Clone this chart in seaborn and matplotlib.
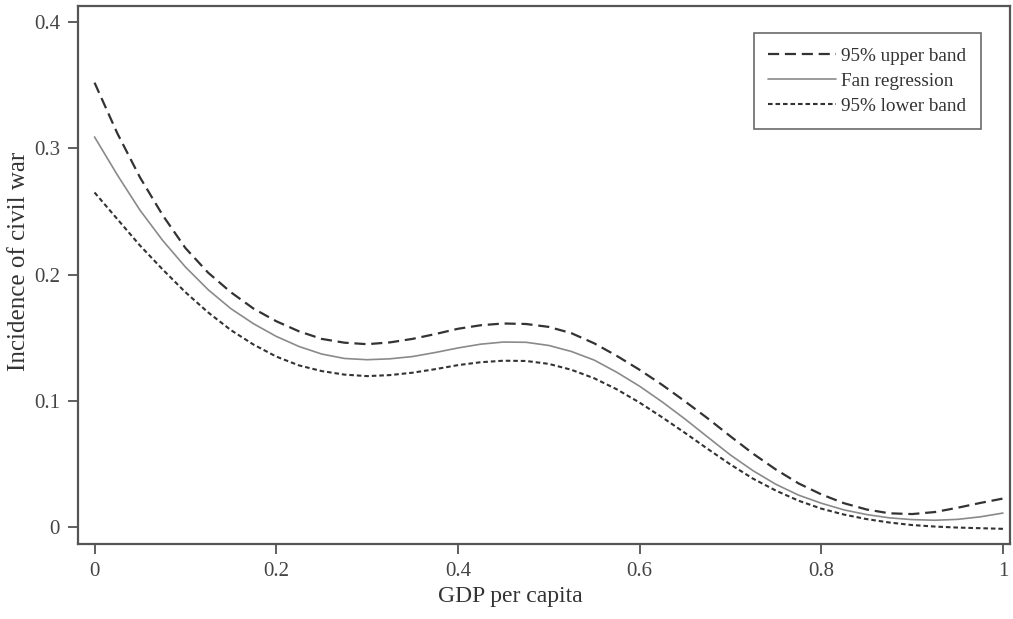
import numpy as np
import pandas as pd
import seaborn as sns
import matplotlib.pyplot as plt

# values (GDP per capita, scaled 0..1)
gdp = [0.000, 0.025, 0.050, 0.075, 0.100, 0.125, 0.150, 0.175, 0.200, 0.225,
       0.250, 0.275, 0.300, 0.325, 0.350, 0.375, 0.400, 0.425, 0.450, 0.475,
       0.500, 0.525, 0.550, 0.575, 0.600, 0.625, 0.650, 0.675, 0.700, 0.725,
       0.750, 0.775, 0.800, 0.825, 0.850, 0.875, 0.900, 0.925, 0.950, 0.975, 1.000]
upper = [0.352, 0.312, 0.277, 0.247, 0.221, 0.2015, 0.186, 0.173, 0.163, 0.155,
         0.149, 0.146, 0.1448, 0.1462, 0.149, 0.1528, 0.157, 0.1598, 0.1612, 0.1608,
         0.1585, 0.1535, 0.1455, 0.1355, 0.1245, 0.1125, 0.0995, 0.086, 0.0718, 0.058,
         0.0455, 0.0345, 0.0258, 0.0188, 0.0138, 0.0108, 0.0102, 0.0118, 0.0152, 0.019, 0.0225]
fan = [0.309, 0.279, 0.251, 0.227, 0.206, 0.188, 0.173, 0.161, 0.151, 0.143,
       0.137, 0.1335, 0.1325, 0.1332, 0.135, 0.1382, 0.1418, 0.1448, 0.1465, 0.1463,
       0.1438, 0.139, 0.1322, 0.1225, 0.1115, 0.099, 0.0855, 0.0712, 0.057, 0.0445,
       0.0338, 0.0252, 0.0188, 0.0135, 0.0098, 0.0072, 0.0058, 0.0053, 0.006, 0.008, 0.011]
lower = [0.265, 0.244, 0.223, 0.204, 0.186, 0.170, 0.156, 0.1445, 0.135, 0.128,
         0.1235, 0.1207, 0.1195, 0.1203, 0.1222, 0.125, 0.1282, 0.1305, 0.1317, 0.1315,
         0.1292, 0.1245, 0.1178, 0.109, 0.0985, 0.0868, 0.0745, 0.0618, 0.0495, 0.0382,
         0.0288, 0.0208, 0.0145, 0.0098, 0.0062, 0.0035, 0.0015, 0.0003, -0.0005, -0.001, -0.0015]
labels = ["95% upper band", "Fan regression", "95% lower band"]

df = pd.DataFrame({"gdp": gdp, labels[0]: upper, labels[1]: fan, labels[2]: lower})

sns.set_style("ticks")
plt.rcParams["font.family"] = ["Liberation Serif", "DejaVu Serif"]

fig = plt.figure(figsize=(10.13, 6.19), dpi=100)
ax = fig.add_axes([0.077, 0.1212, 0.920, 0.869])

styles = {
    labels[0]: dict(color="#333333", lw=1.6, dashes=(5, 2.6)),
    labels[1]: dict(color="#8a8a8a", lw=1.2, dashes=()),
    labels[2]: dict(color="#333333", lw=1.5, dashes=(2.2, 1.4)),
}
for name in labels:
    st = styles[name]
    sns.lineplot(data=df, x="gdp", y=name, ax=ax, color=st["color"],
                 linewidth=st["lw"], label=name)
    if st["dashes"]:
        ax.lines[-1].set_dashes(st["dashes"])

ax.set_xlim(-0.0182, 1.0077)
ax.set_ylim(-0.0135, 0.4127)
ax.set_xticks([0, 0.2, 0.4, 0.6, 0.8, 1])
ax.set_xticklabels(["0", "0.2", "0.4", "0.6", "0.8", "1"])
ax.set_yticks([0, 0.1, 0.2, 0.3, 0.4])
ax.set_yticklabels(["0", "0.1", "0.2", "0.3", "0.4"])
ax.tick_params(length=7, width=1.2, color="#444444", labelsize=15,
               labelcolor="#444444", pad=6)
for sp in ax.spines.values():
    sp.set_visible(True)
    sp.set_color("#555555")
    sp.set_linewidth(1.6)

ax.set_xlabel("GDP per capita", fontsize=17, color="#333333")
ax.set_ylabel("Incidence of civil war", fontsize=18, color="#333333")
ax.xaxis.set_label_coords(0.4635, -0.078)
ax.yaxis.set_label_coords(-0.051, 0.526)

leg = ax.legend(loc="upper right", bbox_to_anchor=(0.979, 0.968), fontsize=13.8,
                frameon=True, fancybox=False, handlelength=3.5, handletextpad=0.3,
                borderpad=0.75, labelspacing=0.4, labelcolor="#333333")
leg.get_frame().set_edgecolor("#444444")
leg.get_frame().set_linewidth(1.2)

fig.savefig("out.png", dpi=100)
